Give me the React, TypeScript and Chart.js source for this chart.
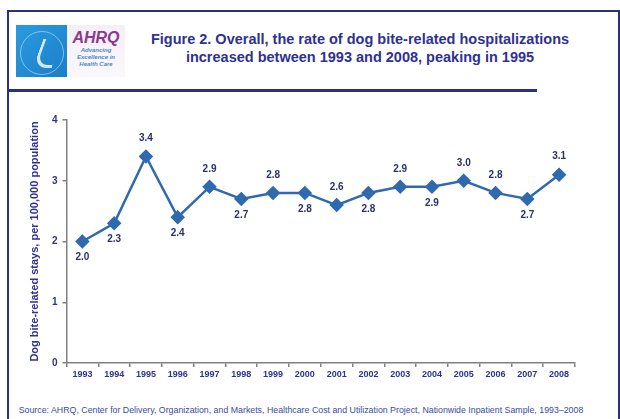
import React, { useEffect, useRef } from "react";
import { Chart, registerables } from "chart.js";

Chart.register(...registerables);

const years = ["1993", "1994", "1995", "1996", "1997", "1998", "1999", "2000", "2001", "2002", "2003", "2004", "2005", "2006", "2007", "2008"];
const rates = [2.0, 2.3, 3.4, 2.4, 2.9, 2.7, 2.8, 2.8, 2.6, 2.8, 2.9, 2.9, 3.0, 2.8, 2.7, 3.1];
const labelSide = ["below", "below", "above", "below", "above", "below", "above", "below", "above", "below", "above", "below", "above", "above", "below", "above"];
const yTicks = [0, 1, 2, 3, 4];

const NAVY = "#2E3192";
const LABEL = "#2B2F6E";
const LINE = "#2F6AAE";
const FONT = "'Liberation Sans', Arial, sans-serif";

const valueLabels = {
  id: "valueLabels",
  afterDatasetsDraw(chart: any) {
    const ctx = chart.ctx;
    const meta = chart.getDatasetMeta(0);
    ctx.save();
    ctx.font = `bold 10px ${FONT}`;
    ctx.fillStyle = LABEL;
    ctx.textAlign = "center";
    ctx.textBaseline = "middle";
    meta.data.forEach((pt: any, i: number) => {
      const dy = labelSide[i] === "above" ? -18 : 16;
      ctx.fillText(rates[i].toFixed(1), pt.x, pt.y + dy);
    });
    ctx.restore();
  },
};

function LineChart() {
  const ref = useRef<HTMLCanvasElement>(null);
  useEffect(() => {
    if (!ref.current) return;
    const chart = new Chart(ref.current, {
      type: "line",
      data: {
        labels: years,
        datasets: [
          {
            data: rates,
            borderColor: LINE,
            backgroundColor: LINE,
            borderWidth: 2.5,
            pointStyle: "rectRot",
            pointRadius: 5.5,
            pointBackgroundColor: LINE,
            pointBorderColor: LINE,
            tension: 0,
          },
        ],
      },
      options: {
        responsive: false,
        animation: false,
        layout: { padding: { left: 24, top: 25, right: 45, bottom: 10 } },
        plugins: { legend: { display: false }, tooltip: { enabled: false } },
        scales: {
          x: {
            offset: true,
            grid: { offset: true, drawOnChartArea: false, drawTicks: true, tickLength: 4, color: "#808080", lineWidth: 1.5 },
            border: { color: "#808080", width: 1.5 },
            ticks: { color: NAVY, font: { family: FONT, size: 9, weight: "bold" }, padding: 2, maxRotation: 0, autoSkip: false },
            afterFit: (s: any) => { s.height = 22; },
          },
          y: {
            min: 0,
            max: 4,
            afterBuildTicks: (s: any) => { s.ticks = yTicks.map((v) => ({ value: v })); },
            grid: { drawOnChartArea: false, drawTicks: true, tickLength: 4, color: "#808080", lineWidth: 1.5 },
            border: { color: "#808080", width: 1.5 },
            ticks: { color: NAVY, font: { family: FONT, size: 10, weight: "bold" }, padding: 5 },
            title: {
              display: true,
              text: "Dog bite-related stays, per 100,000 population",
              color: NAVY,
              font: { family: FONT, size: 11, weight: "bold" },
              padding: { top: 4, bottom: 0 },
            },
            afterFit: (s: any) => { s.width = 42.5; },
          },
        },
      },
      plugins: [valueLabels],
    });
    return () => chart.destroy();
  }, []);
  return <canvas ref={ref} width={620} height={300} style={{ position: "absolute", left: 0, top: 95, width: 620, height: 300 }} />;
}

function Logo() {
  return (
    <div style={{ position: "absolute", left: 16, top: 25, width: 109, height: 52, display: "flex" }}>
      <div style={{ width: 51, height: 52, background: "linear-gradient(135deg,#2a9be0,#1a7fc8)", position: "relative", overflow: "hidden" }}>
        <div style={{ position: "absolute", left: 4, top: 6, width: 42, height: 42, borderRadius: "50%", border: "1px solid rgba(255,255,255,0.45)" }} />
        <div style={{ position: "absolute", left: 22, top: 14, width: 16, height: 26, borderLeft: "3px solid rgba(255,255,255,0.8)", borderBottom: "3px solid rgba(255,255,255,0.8)", borderRadius: "0 0 0 14px", transform: "skewX(-20deg)" }} />
      </div>
      <div style={{ width: 58, height: 52, background: "linear-gradient(180deg,#f4eef6,#fbf8fb)", textAlign: "center", fontFamily: FONT }}>
        <div style={{ fontSize: 16, fontWeight: "bold", fontStyle: "italic", color: "#8a3a8a", lineHeight: "18px", marginTop: 4 }}>AHRQ</div>
        <div style={{ fontSize: 6, fontStyle: "italic", fontWeight: "bold", color: "#4a8ac8", lineHeight: "7px" }}>Advancing<br />Excellence in<br />Health Care</div>
      </div>
    </div>
  );
}

export default function App() {
  return (
    <div style={{ position: "fixed", left: 0, top: 0, width: 620, height: 419, background: "#fff", overflow: "hidden", fontFamily: FONT }}>
      <div style={{ position: "absolute", left: 7, top: 10, width: 609, height: 430, border: "2px solid #2A2F7E", borderBottom: "none" }} />
      <Logo />
      <div style={{ position: "absolute", left: 130, top: 30, width: 460, textAlign: "center", color: NAVY, fontWeight: "bold", fontSize: 14.5, lineHeight: "18px" }}>
        Figure 2. Overall, the rate of dog bite-related hospitalizations
        <br />
        increased between 1993 and 2008, peaking in 1995
      </div>
      <div style={{ position: "absolute", left: 8, top: 89, width: 529, height: 3, background: "#2A2F7E" }} />
      <LineChart />
      <div style={{ position: "absolute", left: 0, top: 405, width: 602, textAlign: "center", color: "#3B4A9E", fontSize: 8.8, whiteSpace: "nowrap" }}>
        Source: AHRQ, Center for Delivery, Organization, and Markets, Healthcare Cost and Utilization Project, Nationwide Inpatient Sample, 1993–2008
      </div>
    </div>
  );
}
